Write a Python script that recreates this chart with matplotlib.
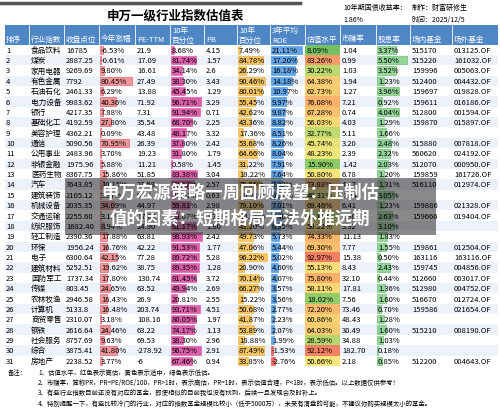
import numpy as np
import matplotlib.pyplot as plt
from matplotlib.colors import LinearSegmentedColormap

plt.rcParams['font.family'] = ['Noto Sans CJK SC', 'DejaVu Sans']

names = ["食品饮料", "煤炭", "家用电器", "有色金属", "石油石化", "电力设备", "银行", "基础化工",
         "美容护理", "通信", "公用事业", "非银金融", "医药生物", "汽车", "建筑装饰", "机械设备",
         "交通运输", "纺织服饰", "轻工制造", "环保", "电子", "建筑材料", "国防军工", "传媒",
         "农林牧渔", "计算机", "商贸零售", "钢铁", "社会服务", "综合", "房地产"]
close = ["16785", "2887.25", "9269.69", "7792", "2461.33", "9983.62", "4217.35", "4192.59",
         "4362.21", "5090.56", "2483.96", "1975.96", "8367.75", "7643.85", "2105.12", "2035.35",
         "2255.60", "1682.40", "2390.36", "1956.24", "6300.64", "5252.51", "1737.34", "803.45",
         "2946.58", "5133.8", "2310.07", "2616.64", "8757.69", "3875.41", "2238.52"]
ytd = [-6.53, -0.61, 9.80, 80.45, 6.29, 40.36, 7.88, 27.80, 0.09, 70.95, 3.70, 5.88, 15.86,
       10.15, 3.37, 34.09, 3.10, 8.94, 17.88, 16.76, 42.15, 19.62, 17.80, 24.65, 16.43, 16.48,
       3.18, 24.46, 9.63, 41.80, 3.77]
pe = ["21.9", "17.09", "16.61", "27.49", "13.88", "71.92", "7.31", "35.54", "43.48", "26.39",
      "19.23", "11.21", "51.85", "27.58", "9.15", "44.97", "17.02", "24.90", "63.81", "42.22",
      "77.28", "38.75", "130.74", "63.52", "26.9", "203.74", "108.16", "63.22", "69.53",
      "-278.92", "-6"]
pe_pct = [8.68, 81.74, 34.14, 38.30, 45.45, 96.71, 91.94, 68.70, 48.17, 37.80, 31.80, 0.58,
          83.38, 73.57, 13.62, 59.81, 25.07, 81.17, 98.93, 91.53, 89.72, 89.35, 81.45, 49.94,
          20.81, 93.71, 80.05, 74.17, 38.30, 96.75, 67.46]
pb = ["4.15", "1.57", "2.6", "3.43", "1.29", "3.29", "0.71", "2.25", "3.32", "2.42", "1.79",
      "1.45", "3.04", "2.57", "0.63", "2.98", "1.31", "1.80", "2.42", "1.77", "5.28", "1.28",
      "3.72", "2.69", "2.55", "4.51", "1.97", "1.13", "2.96", "2.91", "0.94"]
pb_pct = [7.49, 84.78, 26.29, 90.46, 80.01, 55.45, 42.62, 43.36, 17.36, 53.68, 64.66, 31.22,
          18.22, 75.55, 10.21, 79.10, 14.95, 43.20, 49.73, 47.06, 96.22, 20.90, 70.14, 66.27,
          15.22, 50.68, 41.87, 53.89, 18.88, 87.49, 33.85]
roe = [21.11, 17.20, 16.18, 14.18, 10.97, 9.97, 9.87, 8.82, 8.51, 8.26, 8.04, 7.91, 7.64,
       7.33, 6.81, 7.01, 7.40, 6.35, 5.73, 5.44, 5.02, 4.60, 4.07, 3.57, 3.56, 2.77, 2.23,
       2.07, 1.99, -1.53, -2.76]
val_level = [8.09, 83.26, 30.22, 64.38, 62.73, 76.08, 67.28, 56.03, 32.77, 45.74, 48.23, 15.90,
             50.80, 73.88, 40.31, 69.46, 30.11, 56.22, 74.33, 69.30, 92.97, 55.13, 75.80, 58.11,
             18.02, 72.20, 60.86, 64.03, 28.59, 92.12, 50.66]
pr = ["1.04", "0.99", "1.03", "1.94", "1.27", "7.21", "0.74", "4.03", "5.11", "3.20", "2.39",
      "1.42", "6.78", "4.47", "1.34", "6.41", "2.30", "3.92", "11.13", "7.77", "15.38", "8.43",
      "32.10", "17.81", "7.56", "73.46", "48.43", "30.49", "34.88", "182.70", "2.18"]
div = [3.37, 5.50, 3.52, 1.23, 3.96, 0.92, 4.04, 1.29, 1.66, 2.48, 2.32, 2.03, 1.20, 1.31,
       3.05, 1.23, 2.63, 3.10, 1.83, 1.55, 0.50, 2.43, 0.44, 1.36, 1.60, 0.70, 1.28, 1.60,
       1.03, 0.18, 0.85]
fund_in = ["515170", "515220", "159996", "512400", "159697", "159611", "512800", "159870", "",
           "515880", "560620", "512070", "159859", "516110", "", "159886", "159666", "", "",
           "159861", "163116", "159745", "512660", "512980", "516670", "159586", "", "515210",
           "", "", "512200"]
fund_out = ["013125.OF", "161032.OF", "005063.OF", "004432.OF", "019828.OF", "016186.OF",
            "001594.OF", "015897.OF", "", "007818.OF", "024192.OF", "000950.OF", "161726.OF",
            "012974.OF", "", "021328.OF", "019404.OF", "", "", "012504.OF", "163116.OF",
            "004856.OF", "003017.OF", "004752.OF", "012724.OF", "021654.OF", "", "008190.OF",
            "", "", "004643.OF"]

notes = ["1、估值水平，红色表示高估，黄色表示适中，绿色表示低估。",
         "2、市赚率，简称PR，PR=PE/ROE/100，PR>1时，表示高估，PR=1时，表示估值合理，P<1时，表示低估。以上数据仅供参考！",
         "3、有些行业指数目前还没有对应的基金，即使相似的目前我也没有找到，后续一旦发现会及时补上。",
         "4、特别提醒一下，有些比较冷门的行业，对应的指数基金规模比较小（低于5000万），未来有清盘的可能，不建议你购买规模太小的基金。"]

fig = plt.figure(figsize=(5, 4.1), dpi=100)
ax = fig.add_axes([0, 0, 1, 1])
ax.set_xlim(0, 500)
ax.set_ylim(410, 0)
ax.axis('off')

# column left edges
cx = [5, 30, 65, 100, 136, 171, 205, 238, 271, 306, 341, 377, 411, 453, 500]
heads = ["排序", "行业指数", "收盘点位", "今年涨幅", "PE-TTM", "10年\n百分位", "PB", "10年\n百分位",
         "3年平均\nROE", "估值水平", "市赚率", "股息率", "场内基金", "场外基金"]
y0, rh = 45.5, 10.37
fs = 5.5

ax.plot([0, 300], [4, 4], color='#555555', lw=2.5)
ax.text(175, 16, "申万一级行业指数估值表", ha='center', va='center', fontsize=9, weight='bold')
ax.text(343, 8, "10年期国债收益率：", fontsize=5, va='center')
ax.text(343, 20, "1.86%", fontsize=5, va='center')
ax.text(412, 8, "制作：财富研修生", fontsize=5, va='center')
ax.text(412, 20, "时间：2025/12/5", fontsize=5, va='center')

ax.add_patch(plt.Rectangle((5, 26), 493, y0 - 26, color='#4f86c6', lw=0))
for i, h in enumerate(heads):
    ax.plot([cx[i] - 1, cx[i] - 1], [26, y0], color='white', lw=0.6)
    ax.text(cx[i] + 1, y0 - 2 if '\n' not in h else (26 + y0) / 2, h, color='white',
            fontsize=fs, va='bottom' if '\n' not in h else 'center', linespacing=1.4)

val_cmap = LinearSegmentedColormap.from_list('v', ['#5cb85c', '#a9d46b', '#f7e77a', '#f9b46a', '#f06a60'])

def bar(col, v, vmax, color, edge):
    w = (cx[col + 1] - cx[col] - 3) * min(abs(v) / vmax, 1)
    ax.add_patch(plt.Rectangle((cx[col], y - rh / 2 + 1), max(w, 1.2), rh - 2,
                               facecolor=color, edgecolor=edge, lw=0.5, alpha=0.8))

for r in range(len(names)):
    y = y0 + rh * (r + 0.5)
    if r % 2 == 1:
        ax.add_patch(plt.Rectangle((5, y - rh / 2), 493, rh, color='#edf2fa', lw=0))
    bar(3, ytd[r], 82, '#f08080', '#e84a5f')
    bar(5, pe_pct[r], 100, '#d63a96', '#e24ca8')
    bar(7, pb_pct[r], 100, '#f4b93f', '#f0a830')
    bar(8, roe[r], 22, '#e84040' if roe[r] < 0 else '#3d8fe0', '#3d8fe0' if roe[r] >= 0 else '#e84040')
    bar(11, div[r], 5.6, '#7dcd84', '#5cb85c')
    ax.add_patch(plt.Rectangle((cx[9] - 1, y - rh / 2), cx[10] - cx[9], rh,
                               color=val_cmap(val_level[r] / 100), lw=0))
    row = [str(r + 1), names[r], close[r], f"{ytd[r]:.2f}%", pe[r], f"{pe_pct[r]:.2f}%", pb[r],
           f"{pb_pct[r]:.2f}%", f"{roe[r]:.2f}%", f"{val_level[r]:.2f}%", pr[r], f"{div[r]:.2f}%",
           fund_in[r], fund_out[r]]
    for i, t in enumerate(row):
        ax.text(cx[i] + 1, y, t, fontsize=fs, va='center')

ax.text(8, 373, "备注：", fontsize=4.6, va='center')
for k, n in enumerate(notes):
    ax.text(38, 373 + k * 10.2, n, fontsize=4.6, va='center')

# headline overlay
ax.add_patch(plt.Rectangle((65, 179), 371, 57, color='#3a3a3a', alpha=0.6, lw=0))
ax.text(240, 193, "申万宏源策略一周回顾展望：压制估", color='white', fontsize=12.5,
        weight='bold', ha='center', va='center')
ax.text(240, 219, "值的因素：短期格局无法外推远期", color='white', fontsize=12.5,
        weight='bold', ha='center', va='center')

fig.savefig("out.png", dpi=100)
